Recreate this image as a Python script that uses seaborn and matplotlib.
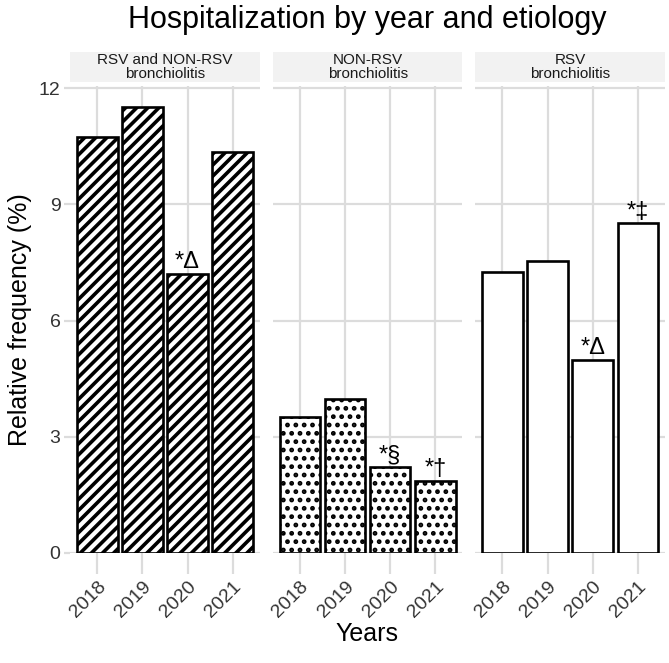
import numpy as np
import pandas as pd
import matplotlib
matplotlib.use('Agg')
import matplotlib.pyplot as plt
import seaborn as sns
from matplotlib.patches import Rectangle

# data
years = ['2018', '2019', '2020', '2021']
etiologies = ['RSV and NON-RSV\nbronchiolitis', 'NON-RSV\nbronchiolitis', 'RSV\nbronchiolitis']
all_freq = [10.75, 11.5, 7.2, 10.35]
nonrsv_freq = [3.5, 3.97, 2.22, 1.86]
rsv_freq = [7.25, 7.53, 4.98, 8.51]
all_marks = ['', '', '*Δ', '']
nonrsv_marks = ['', '', '*§', '*†']
rsv_marks = ['', '', '*Δ', '*‡']

freqs = [all_freq, nonrsv_freq, rsv_freq]
marks = [all_marks, nonrsv_marks, rsv_marks]
hatches = ['///', '..', '']
hatch_lw = [2.6, 2.2, 1.0]

df = pd.DataFrame({
    'etiology': np.repeat(etiologies, len(years)),
    'year': years * len(etiologies),
    'freq': np.concatenate(freqs),
})

sns.set_style('white')
plt.rcParams['font.family'] = ['Liberation Sans', 'DejaVu Sans']
plt.rcParams['text.color'] = 'black'
plt.rcParams['hatch.linewidth'] = 2.6
plt.rcParams['hatch.color'] = 'black'

fig, axes = plt.subplots(1, 3, figsize=(6.69, 6.63), dpi=100, sharey=True)
fig.subplots_adjust(left=0.105, right=0.994, bottom=0.166, top=0.870, wspace=0.0685)

grid_col = '#dcdcdc'
for k, ax in enumerate(axes):
    sub = df[df['etiology'] == etiologies[k]]
    sns.barplot(data=sub, x='year', y='freq', ax=ax, color='white',
                edgecolor='black', linewidth=1.9, width=0.9, saturation=1,
                errorbar=None, zorder=3)
    for p in ax.patches:
        p.set_facecolor('white')
        p.set_hatch(hatches[k])
        if hasattr(p, 'set_hatch_linewidth'):
            p.set_hatch_linewidth(hatch_lw[k])
    for i, (v, m) in enumerate(zip(freqs[k], marks[k])):
        if m:
            ax.text(i, v + 0.02, m, ha='center', va='bottom', fontsize=17,
                    color='black', zorder=4)

    ax.set_xlim(-0.6, 3.6)
    ax.set_ylim(0, 12.05)
    ax.set_yticks([0, 3, 6, 9, 12])
    ax.grid(True, color=grid_col, linewidth=1.6, zorder=0)
    ax.set_axisbelow(True)
    for s in ax.spines.values():
        s.set_visible(False)
    ax.set_xlabel('')
    ax.set_ylabel('')
    ax.tick_params(axis='x', bottom=True, length=15, width=1.6, color=grid_col,
                   pad=3, labelsize=14, labelcolor='#333333')
    ax.tick_params(axis='y', left=True, length=4, width=1.6, color=grid_col,
                   pad=3, labelsize=14, labelcolor='#333333')
    for lab in ax.get_xticklabels():
        lab.set_rotation(45)
        lab.set_ha('right')
        lab.set_va('top')
        lab.set_rotation_mode('anchor')
    if k > 0:
        ax.tick_params(axis='y', left=False, labelleft=False)

    # facet strip
    ax.add_patch(Rectangle((0, 1.0086), 1, 0.064, transform=ax.transAxes,
                           facecolor='#f2f2f2', edgecolor='none', clip_on=False))
    ax.text(0.5, 1.0405, etiologies[k], transform=ax.transAxes, ha='center',
            va='center', fontsize=11, color='#1a1a1a', linespacing=1.0)

fig.text(367 / 669, 1 - 20 / 663, 'Hospitalization by year and etiology',
         ha='center', va='center', fontsize=22)
fig.text(367 / 669, 1 - 634 / 663, 'Years', ha='center', va='center', fontsize=18)
fig.text(20 / 669, 1 - 320 / 663, 'Relative frequency (%)', ha='center',
         va='center', rotation=90, fontsize=18)

fig.savefig('out.png', dpi=100)
